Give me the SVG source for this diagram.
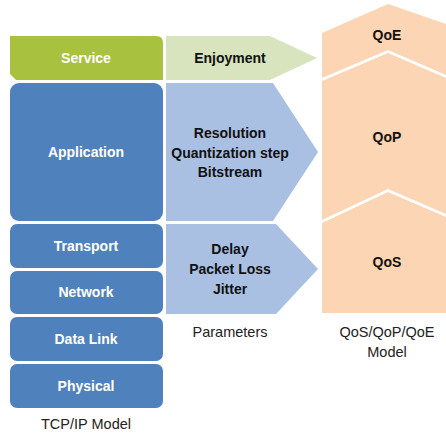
<svg xmlns="http://www.w3.org/2000/svg" width="446" height="434" viewBox="0 0 446 434">
<style>
.layer{fill:#4f81bd}
.lt{font-family:"Liberation Sans",Arial,sans-serif;font-weight:bold;font-size:14px;fill:#ffffff;text-anchor:middle}
.mt{font-family:"Liberation Sans",Arial,sans-serif;font-weight:bold;font-size:14px;fill:#111111;text-anchor:middle}
.cap{font-family:"Liberation Sans",Arial,sans-serif;font-size:14.5px;fill:#222222;text-anchor:middle}
.param{fill:#a9c0e2}
.q{fill:#fcd5b4}
</style>
<rect width="446" height="434" fill="#ffffff"/>
<g id="service">
<path d="M10,36 H156 Q163,36 163,43 V80 H16 L10,74 Z" fill="#a8c23f"/>
<text class="lt" x="86" y="63">Service</text>
</g>
<g id="application">
<rect class="layer" x="10" y="83" width="153" height="138" rx="9"/>
<text class="lt" x="86" y="157">Application</text>
</g>
<g id="transport">
<rect class="layer" x="10" y="224" width="153" height="44" rx="7"/>
<text class="lt" x="86" y="251">Transport</text>
</g>
<g id="network">
<rect class="layer" x="10" y="271" width="153" height="43" rx="7"/>
<text class="lt" x="86" y="297">Network</text>
</g>
<g id="datalink">
<rect class="layer" x="10" y="317" width="153" height="44" rx="7"/>
<text class="lt" x="86" y="344">Data Link</text>
</g>
<g id="physical">
<rect class="layer" x="10" y="364" width="153" height="44" rx="7"/>
<text class="lt" x="86" y="391">Physical</text>
</g>
<text class="cap" x="86" y="429">TCP/IP Model</text>
<g id="enjoyment">
<polygon points="166,36 270,36 317,58 270,80 166,80" fill="#d7e4bd"/>
<text class="mt" x="230" y="63">Enjoyment</text>
</g>
<g id="app-params">
<polygon class="param" points="166,83 273,83 318,152 273,221 166,221"/>
<text class="mt" x="230" y="138">Resolution</text>
<text class="mt" x="230" y="157.5">Quantization step</text>
<text class="mt" x="230" y="177">Bitstream</text>
</g>
<g id="net-params">
<polygon class="param" points="166,224 276,224 318,269 276,314 166,314"/>
<text class="mt" x="230" y="254">Delay</text>
<text class="mt" x="230" y="274">Packet Loss</text>
<text class="mt" x="230" y="294">Jitter</text>
</g>
<text class="cap" x="230" y="337">Parameters</text>
<g id="qoe">
<polygon class="q" points="322,33 388,4 446,24 446,75 388,50 322,78"/>
<text class="mt" x="387" y="40">QoE</text>
</g>
<g id="qop">
<polygon class="q" points="322,81 388,53 446,78 446,214 388,189 322,220"/>
<text class="mt" x="387" y="142">QoP</text>
</g>
<g id="qos">
<polygon class="q" points="322,223 388,192 446,217 446,313 322,313"/>
<text class="mt" x="387" y="267">QoS</text>
</g>
<text class="cap" x="387" y="337">QoS/QoP/QoE</text>
<text class="cap" x="387" y="357">Model</text>
<g id="connectors"/>
</svg>
